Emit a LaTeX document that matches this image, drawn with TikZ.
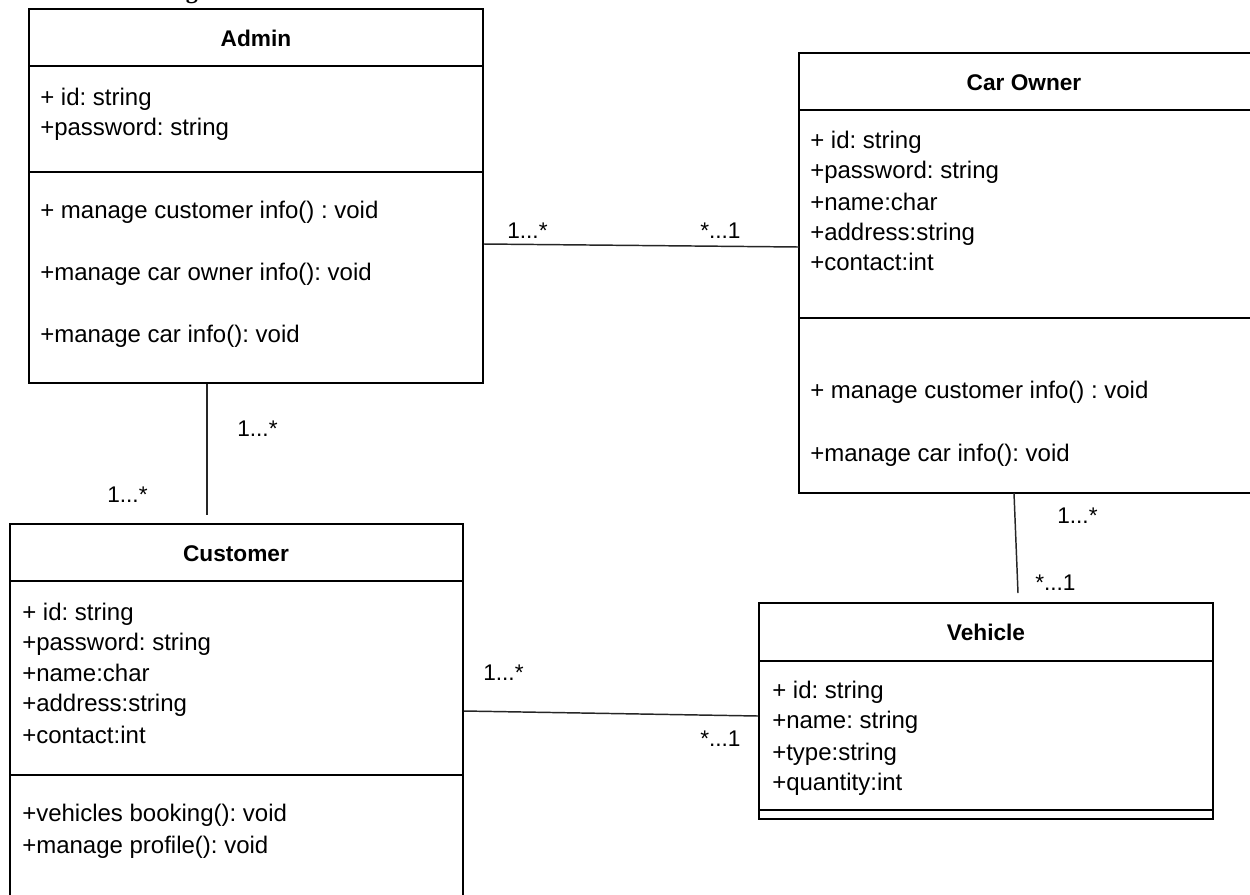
\documentclass[tikz,border=0pt]{standalone}
\usepackage{fontspec}
\setmainfont{Liberation Sans}
\newfontfamily\headfont{Liberation Serif}
\usetikzlibrary{fit}
\frenchspacing

\tikzset{
  classbox/.style={draw=black, line width=1.4pt, inner sep=0pt, fill=white},
  sep/.style={draw=black, line width=1.4pt},
  assoc/.style={draw=black!85, line width=1.1pt},
  member/.style={anchor=base west, inner sep=0pt, font=\fontsize{18}{22}\selectfont\frenchspacing},
  cname/.style={anchor=base, inner sep=0pt, font=\fontsize{17}{20}\selectfont\bfseries},
  mult/.style={anchor=base west, inner sep=0pt, font=\fontsize{17}{20}\selectfont},
}

\begin{document}
\begin{tikzpicture}[x=0.75pt, y=-0.75pt]
\useasboundingbox (0,0) rectangle (1250,894);
\clip (0,0) rectangle (1250,894);
\fill[white] (0,0) rectangle (1250,894);

% heading of the page section, mostly above the visible area
\node[anchor=base west, inner sep=0pt, font=\headfont\bfseries\fontsize{18}{22}\selectfont] (heading) at (89,-2) {Class Diagram};

% ---------- Admin ----------
\node[classbox, fit={(29,9) (483,383)}] (admin) {};
\draw[sep] (admin.west |- 0,66) -- (admin.east |- 0,66);
\draw[sep] (admin.west |- 0,172) -- (admin.east |- 0,172);
\node[cname] (adminT) at (256,46) {Admin};
\node[member] (adminA1) at (40,105) {+ id: string};
\node[member] (adminA2) at (40,135) {+password: string};
\node[member] (adminM1) at (40,218) {+ manage customer info() : void};
\node[member] (adminM2) at (40,280) {+manage car owner info(): void};
\node[member] (adminM3) at (40,342) {+manage car info(): void};

% ---------- Car Owner ----------
\node[classbox, fit={(799,53) (1262,493)}] (owner) {};
\draw[sep] (owner.west |- 0,110) -- (owner.east |- 0,110);
\draw[sep] (owner.west |- 0,318) -- (owner.east |- 0,318);
\node[cname] (ownerT) at (1024,90) {Car Owner};
\node[member] (ownerA1) at (810,148) {+ id: string};
\node[member] (ownerA2) at (810,178) {+password: string};
\node[member] (ownerA3) at (810,210) {+name:char};
\node[member] (ownerA4) at (810,240) {+address:string};
\node[member] (ownerA5) at (810,270) {+contact:int};
\node[member] (ownerM1) at (810,398) {+ manage customer info() : void};
\node[member] (ownerM2) at (810,461) {+manage car info(): void};

% ---------- Customer ----------
\node[classbox, fit={(10,524) (463,905)}] (customer) {};
\draw[sep] (customer.west |- 0,581) -- (customer.east |- 0,581);
\draw[sep] (customer.west |- 0,775) -- (customer.east |- 0,775);
\node[cname] (customerT) at (236,561) {Customer};
\node[member] (custA1) at (22,620) {+ id: string};
\node[member] (custA2) at (22,650) {+password: string};
\node[member] (custA3) at (22,681) {+name:char};
\node[member] (custA4) at (22,711) {+address:string};
\node[member] (custA5) at (22,743) {+contact:int};
\node[member] (custM1) at (22,821) {+vehicles booking(): void};
\node[member] (custM2) at (22,853) {+manage profile(): void};

% ---------- Vehicle ----------
\node[classbox, fit={(759,603) (1213,819)}] (vehicle) {};
\draw[sep] (vehicle.west |- 0,661) -- (vehicle.east |- 0,661);
\draw[sep] (vehicle.west |- 0,810) -- (vehicle.east |- 0,810);
\node[cname] (vehicleT) at (986,640) {Vehicle};
\node[member] (vehA1) at (772,698) {+ id: string};
\node[member] (vehA2) at (772,728) {+name: string};
\node[member] (vehA3) at (772,760) {+type:string};
\node[member] (vehA4) at (772,790) {+quantity:int};

% ---------- associations ----------
\coordinate (adminOwnerEnd) at (799,247);
\draw[assoc] (admin.east |- 0,244) -- (adminOwnerEnd);
\node[mult] (m1) at (507,238) {1...*};
\node[mult] (m2) at (700,238) {*...1};

\coordinate (adminCustEnd) at (207,515);
\draw[assoc] (admin.south -| adminCustEnd) -- (adminCustEnd);
\node[mult] (m3) at (237,436) {1...*};
\node[mult] (m4) at (107,502) {1...*};

\coordinate (ownerVehStart) at (1014,493);
\coordinate (ownerVehEnd) at (1018,593);
\draw[assoc] (ownerVehStart) -- (ownerVehEnd);
\node[mult] (m5) at (1057,523) {1...*};
\node[mult] (m6) at (1035,590) {*...1};

\draw[assoc] (customer.east |- 0,711) -- (vehicle.west |- 0,716);
\node[mult] (m7) at (483,680) {1...*};
\node[mult] (m8) at (700,746) {*...1};
\end{tikzpicture}
\end{document}
